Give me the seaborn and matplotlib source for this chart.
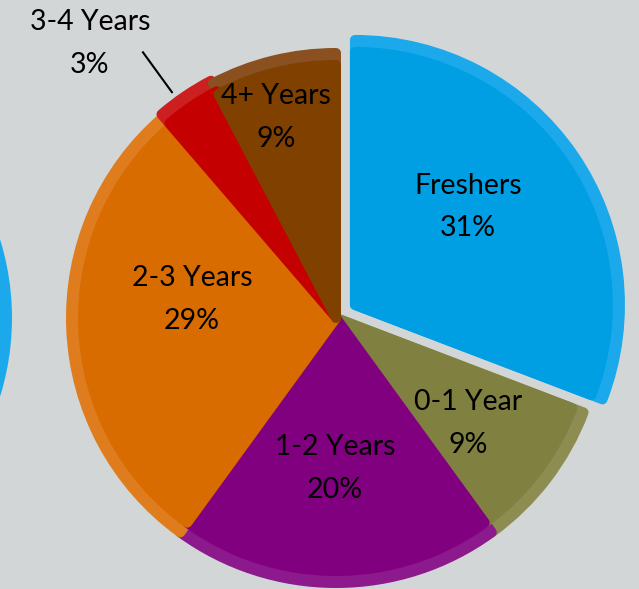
import numpy as np
import matplotlib
matplotlib.use("Agg")
import matplotlib.pyplot as plt
import seaborn as sns

# ---- data ----
categories = ["Freshers", "0-1 Year", "1-2 Years", "2-3 Years", "3-4 Years", "4+ Years"]
shares = [30.8, 9.2, 20.0, 28.7, 3.6, 7.7]          # slice sizes as drawn
pct_labels = ["31%", "9%", "20%", "29%", "3%", "9%"]  # printed labels

# ---- style ----
dark_colors = ["#009fe3", "#808040", "#800080", "#d96c00", "#c40000", "#804000"]
light_colors = ["#1ba9eb", "#8d8d52", "#8c1a8c", "#df7d1e", "#cc1f1f", "#8a5020"]
bg = "#d3d6d7"

sns.set_theme(style="white")
plt.rcParams["font.family"] = ["Lato", "DejaVu Sans"]

W, H, DPI = 6.39, 5.89, 100
S = 270.0                      # pixels per data unit (pie radius)
cx, cy = 336.0, 318.0          # pie center in pixels (from top-left)

fig = plt.figure(figsize=(W, H), dpi=DPI, facecolor=bg)
ax = fig.add_axes([0, 0, 1, 1])
ax.set_facecolor(bg)
ax.axis("off")

# partial neighbouring circle at the left edge
ax.add_patch(plt.Circle((-(cx + 253) / S, 0.0), 265 / S, color="#1ba9eb", lw=0))

half = 5.0                     # half stroke in px (rounded corners)
lw_pt = 2 * half * 72 / DPI
band = 12.0
explode = [23 / S, 0, 0, 0, 0.012, 0]

light = sns.color_palette(light_colors)
dark = sns.color_palette(dark_colors)

outer, _ = ax.pie(shares, radius=1.0 - half / S, colors=light, startangle=90,
                  counterclock=False, explode=explode, normalize=True,
                  wedgeprops=dict(linewidth=lw_pt, joinstyle="round"))
for w, c in zip(outer, light):
    w.set_edgecolor(c)
inner, _ = ax.pie(shares, radius=1.0 - (half + band) / S, colors=dark, startangle=90,
                  counterclock=False, explode=explode, normalize=True,
                  wedgeprops=dict(linewidth=lw_pt, joinstyle="round"))
for w, c in zip(inner, dark):
    w.set_edgecolor(c)

ax.set_xlim(-cx / S, (W * DPI - cx) / S)
ax.set_ylim(-(H * DPI - cy) / S, cy / S)
ax.set_aspect("equal")

# label layout: radial distance and angular offset from each wedge's mid-angle
label_dist = [0.639, 0.626, 0.557, 0.538, 1.365, 0.775]
label_off = [5.5, -1.2, -0.4, -9.8, 7.7, 2.8]
for w, cat, pct, d, off in zip(inner, categories, pct_labels, label_dist, label_off):
    mid = np.deg2rad((w.theta1 + w.theta2) / 2 + off)
    ax.text(d * np.cos(mid), d * np.sin(mid), f"{cat}\n{pct}", ha="center", va="center",
            multialignment="center", fontsize=20.5, color="black", linespacing=1.8)

# leader line for the small slice
red = inner[4]
a = np.deg2rad((red.theta1 + red.theta2) / 2 + 1.8)
ax.plot([1.03 * np.cos(a), 1.22 * np.cos(a)], [1.03 * np.sin(a), 1.22 * np.sin(a)],
        color="black", lw=1.5, solid_capstyle="butt")

fig.savefig("out.png", dpi=DPI, facecolor=bg)
